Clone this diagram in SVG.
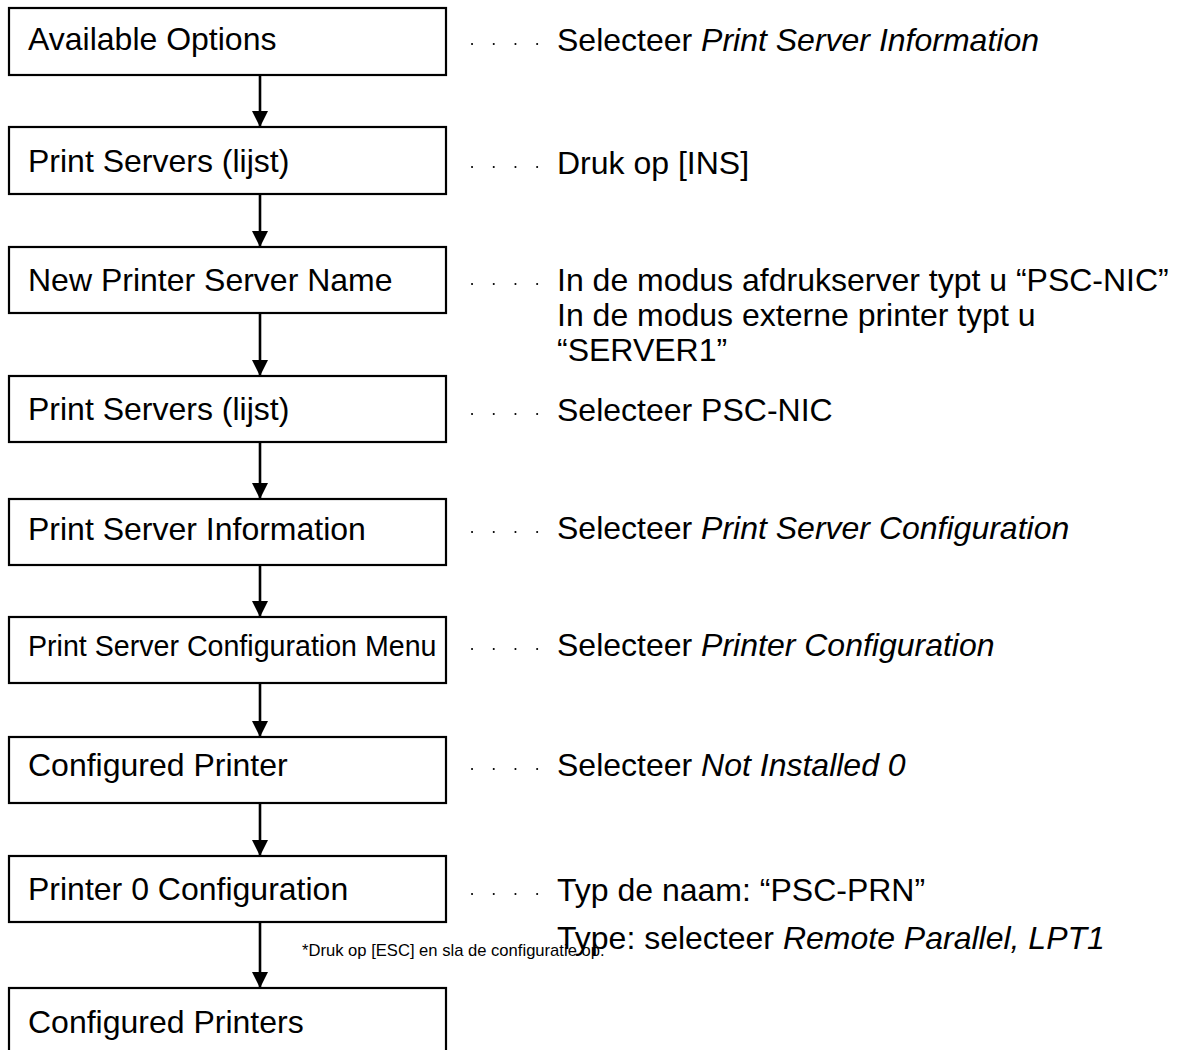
<svg xmlns="http://www.w3.org/2000/svg" width="1180" height="1050" viewBox="0 0 1180 1050">
<defs>
<style>
.box{fill:#fff;stroke:#000;stroke-width:2.2}
.t{font-family:"Liberation Sans",Arial,sans-serif;font-size:32px;fill:#000}
.ts{font-family:"Liberation Sans",Arial,sans-serif;font-size:28.6px;fill:#000}
.fn{font-family:"Liberation Sans",Arial,sans-serif;font-size:16.6px;fill:#000}
.i{font-style:italic}
.dots{stroke:#000;stroke-width:2;stroke-linecap:round;stroke-dasharray:0.1 21.6}
.con{stroke:#000;stroke-width:2.6;fill:none}
</style>
<marker id="ah" markerWidth="16" markerHeight="16" viewBox="0 0 16 16" refX="16" refY="8" orient="auto" markerUnits="userSpaceOnUse">
<path d="M0,0 L16,8 L0,16 Z" fill="#000"/>
</marker>
</defs>
<rect width="1180" height="1050" fill="#fff"/>
<g id="connectors">
<line class="con" x1="260" y1="75" x2="260" y2="127" marker-end="url(#ah)"/>
<line class="con" x1="260" y1="194" x2="260" y2="247" marker-end="url(#ah)"/>
<line class="con" x1="260" y1="313" x2="260" y2="376" marker-end="url(#ah)"/>
<line class="con" x1="260" y1="442" x2="260" y2="499" marker-end="url(#ah)"/>
<line class="con" x1="260" y1="565" x2="260" y2="617" marker-end="url(#ah)"/>
<line class="con" x1="260" y1="683" x2="260" y2="737" marker-end="url(#ah)"/>
<line class="con" x1="260" y1="803" x2="260" y2="856" marker-end="url(#ah)"/>
<line class="con" x1="260" y1="922" x2="260" y2="988" marker-end="url(#ah)"/>
</g>
<g id="n1"><rect class="box" x="9" y="8" width="437" height="67"/><text class="t" x="28" y="50">Available Options</text></g>
<g id="n2"><rect class="box" x="9" y="127" width="437" height="67"/><text class="t" x="28" y="172">Print Servers (lijst)</text></g>
<g id="n3"><rect class="box" x="9" y="247" width="437" height="66"/><text class="t" x="28" y="291">New Printer Server Name</text></g>
<g id="n4"><rect class="box" x="9" y="376" width="437" height="66"/><text class="t" x="28" y="420">Print Servers (lijst)</text></g>
<g id="n5"><rect class="box" x="9" y="499" width="437" height="66"/><text class="t" x="28" y="540">Print Server Information</text></g>
<g id="n6"><rect class="box" x="9" y="617" width="437" height="66"/><text class="ts" x="28" y="656">Print Server Configuration Menu</text></g>
<g id="n7"><rect class="box" x="9" y="737" width="437" height="66"/><text class="t" x="28" y="776">Configured Printer</text></g>
<g id="n8"><rect class="box" x="9" y="856" width="437" height="66"/><text class="t" x="28" y="900">Printer 0 Configuration</text></g>
<g id="n9"><rect class="box" x="9" y="988" width="437" height="70"/><text class="t" x="28" y="1033">Configured Printers</text></g>
<g id="notes">
<line class="dots" x1="472" y1="44" x2="540" y2="44"/>
<text class="t" x="557" y="51">Selecteer <tspan class="i">Print Server Information</tspan></text>
<line class="dots" x1="472" y1="167" x2="540" y2="167"/>
<text class="t" x="557" y="174">Druk op [INS]</text>
<line class="dots" x1="472" y1="284" x2="540" y2="284"/>
<text class="t" x="557" y="291">In de modus afdrukserver typt u “PSC-NIC”</text>
<text class="t" x="557" y="326">In de modus externe printer typt u</text>
<text class="t" x="557" y="361">“SERVER1”</text>
<line class="dots" x1="472" y1="414" x2="540" y2="414"/>
<text class="t" x="557" y="421">Selecteer PSC-NIC</text>
<line class="dots" x1="472" y1="532" x2="540" y2="532"/>
<text class="t" x="557" y="539">Selecteer <tspan class="i">Print Server Configuration</tspan></text>
<line class="dots" x1="472" y1="649" x2="540" y2="649"/>
<text class="t" x="557" y="656">Selecteer <tspan class="i">Printer Configuration</tspan></text>
<line class="dots" x1="472" y1="769" x2="540" y2="769"/>
<text class="t" x="557" y="776">Selecteer <tspan class="i">Not Installed 0</tspan></text>
<line class="dots" x1="472" y1="894" x2="540" y2="894"/>
<text class="t" x="557" y="901">Typ de naam: “PSC-PRN”</text>
<text class="t" x="557" y="949">Type: selecteer <tspan class="i">Remote Parallel, LPT1</tspan></text>
<text class="fn" x="302" y="956">*Druk op [ESC] en sla de configuratie op.</text>
</g>
</svg>
